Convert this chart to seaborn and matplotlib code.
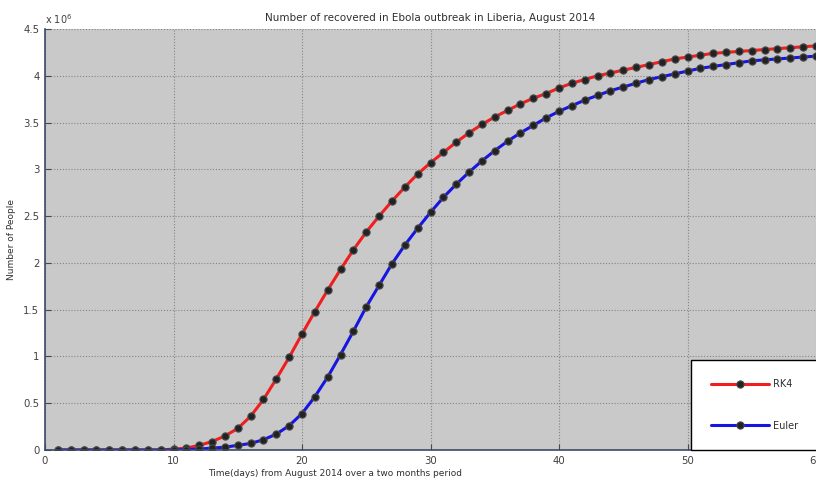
import numpy as np
import pandas as pd
import matplotlib
matplotlib.use("Agg")
import matplotlib.pyplot as plt
import seaborn as sns

# days 1..60, number of recovered people in millions
days = list(range(1, 61))
rk4 = [0, 0, 0, 0, 0, 0, 0, 0, 0, 0.01,
       0.02, 0.05, 0.09, 0.15, 0.23, 0.36, 0.54, 0.76, 0.99, 1.24,
       1.48, 1.71, 1.93, 2.14, 2.33, 2.50, 2.66, 2.81, 2.95, 3.07,
       3.18, 3.29, 3.39, 3.48, 3.56, 3.63, 3.70, 3.76, 3.81, 3.87,
       3.92, 3.96, 4.00, 4.03, 4.06, 4.09, 4.12, 4.15, 4.18, 4.20,
       4.22, 4.24, 4.25, 4.26, 4.27, 4.28, 4.29, 4.30, 4.31, 4.32]
euler = [0, 0, 0, 0, 0, 0, 0, 0, 0, 0,
         0.005, 0.01, 0.02, 0.03, 0.05, 0.07, 0.11, 0.17, 0.26, 0.39,
         0.57, 0.78, 1.02, 1.27, 1.53, 1.76, 1.99, 2.19, 2.37, 2.54,
         2.70, 2.84, 2.97, 3.09, 3.20, 3.30, 3.39, 3.47, 3.55, 3.62,
         3.68, 3.74, 3.79, 3.84, 3.88, 3.92, 3.96, 3.99, 4.02, 4.05,
         4.08, 4.10, 4.12, 4.14, 4.16, 4.17, 4.18, 4.19, 4.20, 4.21]
methods = ["RK4", "Euler"]
colors = {"RK4": "#f01e1e", "Euler": "#1616e0"}
xticks = [0, 10, 20, 30, 40, 50, 60]
yticks = [0, 0.5, 1, 1.5, 2, 2.5, 3, 3.5, 4, 4.5]
ytick_labels = ["0", "0.5", "1", "1.5", "2", "2.5", "3", "3.5", "4", "4.5"]

df = pd.concat([
    pd.DataFrame({"day": days, "people": rk4, "method": "RK4"}),
    pd.DataFrame({"day": days, "people": euler, "method": "Euler"}),
])

sns.set_style("ticks")
plt.rcParams["font.family"] = ["DejaVu Sans"]

fig = plt.figure(figsize=(8.16, 4.84), dpi=100)
ax = fig.add_axes([45 / 816, 34 / 484, 771 / 816, 421 / 484])
ax.set_facecolor("#c9c9c9")

sns.lineplot(data=df, x="day", y="people", hue="method", hue_order=methods,
             palette=colors, linewidth=2.2, marker="o", markersize=5.2,
             markerfacecolor="#222222", markeredgecolor="#4a4a4a",
             markeredgewidth=0.8, legend=False, ax=ax)

ax.set_xlim(0, 60)
ax.set_ylim(0, 4.5)
ax.set_xticks(xticks)
ax.set_yticks(yticks)
ax.set_yticklabels(ytick_labels)
ax.grid(True, linestyle=(0, (1, 1.6)), color="#858585", linewidth=0.8)
ax.tick_params(direction="in", length=4, labelsize=7.3, width=0.8, pad=4,
               colors="#3c4a66", labelcolor="#404040")
for side in ["top", "right"]:
    ax.spines[side].set_visible(False)
for side in ["left", "bottom"]:
    ax.spines[side].set_color("#3c4a66")
    ax.spines[side].set_linewidth(1.2)

ax.set_title("Number of recovered in Ebola outbreak in Liberia, August 2014",
             fontsize=7.5, color="#303030", pad=6)
ax.set_xlabel("Time(days) from August 2014 over a two months period",
              fontsize=6.5, color="#303030")
ax.xaxis.set_label_coords(0.376, -0.045)
ax.set_ylabel("Number of People", fontsize=6.5, color="#303030")
ax.yaxis.set_label_coords(-0.038, 0.5)
ax.text(0.0, 1.006, r"x 10$^6$", transform=ax.transAxes, fontsize=7,
        color="#404040", ha="left", va="bottom")

handles = ax.get_lines()[:2]
leg = ax.legend(handles, methods, loc="lower left",
                bbox_to_anchor=(0.838, 0.0), borderaxespad=0,
                fontsize=7, handlelength=6, handletextpad=0.4,
                labelspacing=3.2, borderpad=2.0, fancybox=False,
                framealpha=1, facecolor="white", edgecolor="black")
leg.get_frame().set_linewidth(1.0)
for t in leg.get_texts():
    t.set_color("#303030")

fig.savefig("out.png", dpi=100)
